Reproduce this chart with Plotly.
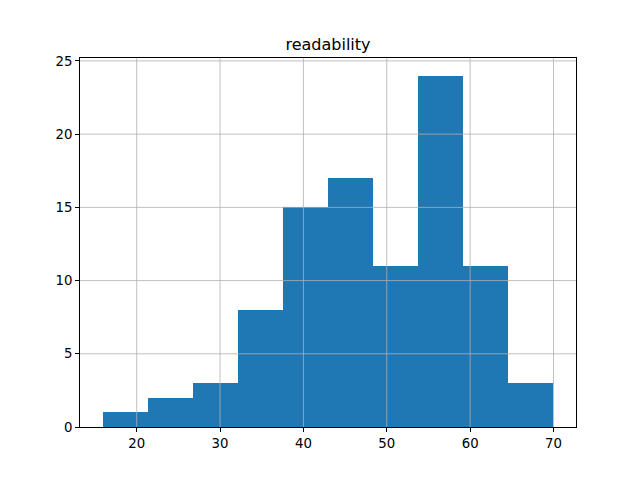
import plotly.graph_objects as go

# Histogram bins (edges) and counts
bin_edges = [15.9, 21.3, 26.7, 32.1, 37.6, 43.0, 48.4, 53.8, 59.2, 64.6, 70.0]
counts = [1, 2, 3, 8, 15, 17, 11, 24, 11, 3]
x_ticks = [20, 30, 40, 50, 60, 70]
y_ticks = [0, 5, 10, 15, 20, 25]
title_text = "readability"

x_range = [13.2, 72.7]
y_range = [0, 25.2]

centers = [(a + b) / 2 for a, b in zip(bin_edges[:-1], bin_edges[1:])]
widths = [b - a for a, b in zip(bin_edges[:-1], bin_edges[1:])]

fig = go.Figure(go.Bar(
    x=centers, y=counts, width=widths,
    marker=dict(color="#1f77b4", line=dict(width=0)),
    hoverinfo="skip",
))

grid = dict(color="#b0b0b0", width=0.8)
shapes = []
for t in x_ticks:
    if x_range[0] < t < x_range[1]:
        shapes.append(dict(type="line", xref="x", yref="paper", x0=t, x1=t,
                           y0=0, y1=1, line=grid, layer="above"))
for t in y_ticks:
    if y_range[0] < t < y_range[1]:
        shapes.append(dict(type="line", xref="paper", yref="y", x0=0, x1=1,
                           y0=t, y1=t, line=grid, layer="above"))

axis_common = dict(
    showgrid=False, zeroline=False, showline=True, mirror=True,
    linecolor="black", linewidth=0.8, ticks="outside", ticklen=4,
    tickwidth=0.8, tickcolor="black",
    tickfont=dict(family="DejaVu Sans", size=13.3, color="black"),
)

fig.update_layout(
    width=640, height=480,
    margin=dict(l=80, r=64, t=58, b=53),
    paper_bgcolor="white", plot_bgcolor="white",
    bargap=0, showlegend=False,
    shapes=shapes,
    title=dict(text=title_text, x=0.5, xref="paper", xanchor="center",
               y=(480 - 44) / 480, yref="container", yanchor="middle",
               font=dict(family="DejaVu Sans", size=16, color="black")),
    xaxis=dict(range=x_range, tickvals=x_ticks,
               ticktext=[str(t) for t in x_ticks], **axis_common),
    yaxis=dict(range=y_range, tickvals=y_ticks,
               ticktext=[str(t) for t in y_ticks], **axis_common),
)

fig.write_html("out.html")
